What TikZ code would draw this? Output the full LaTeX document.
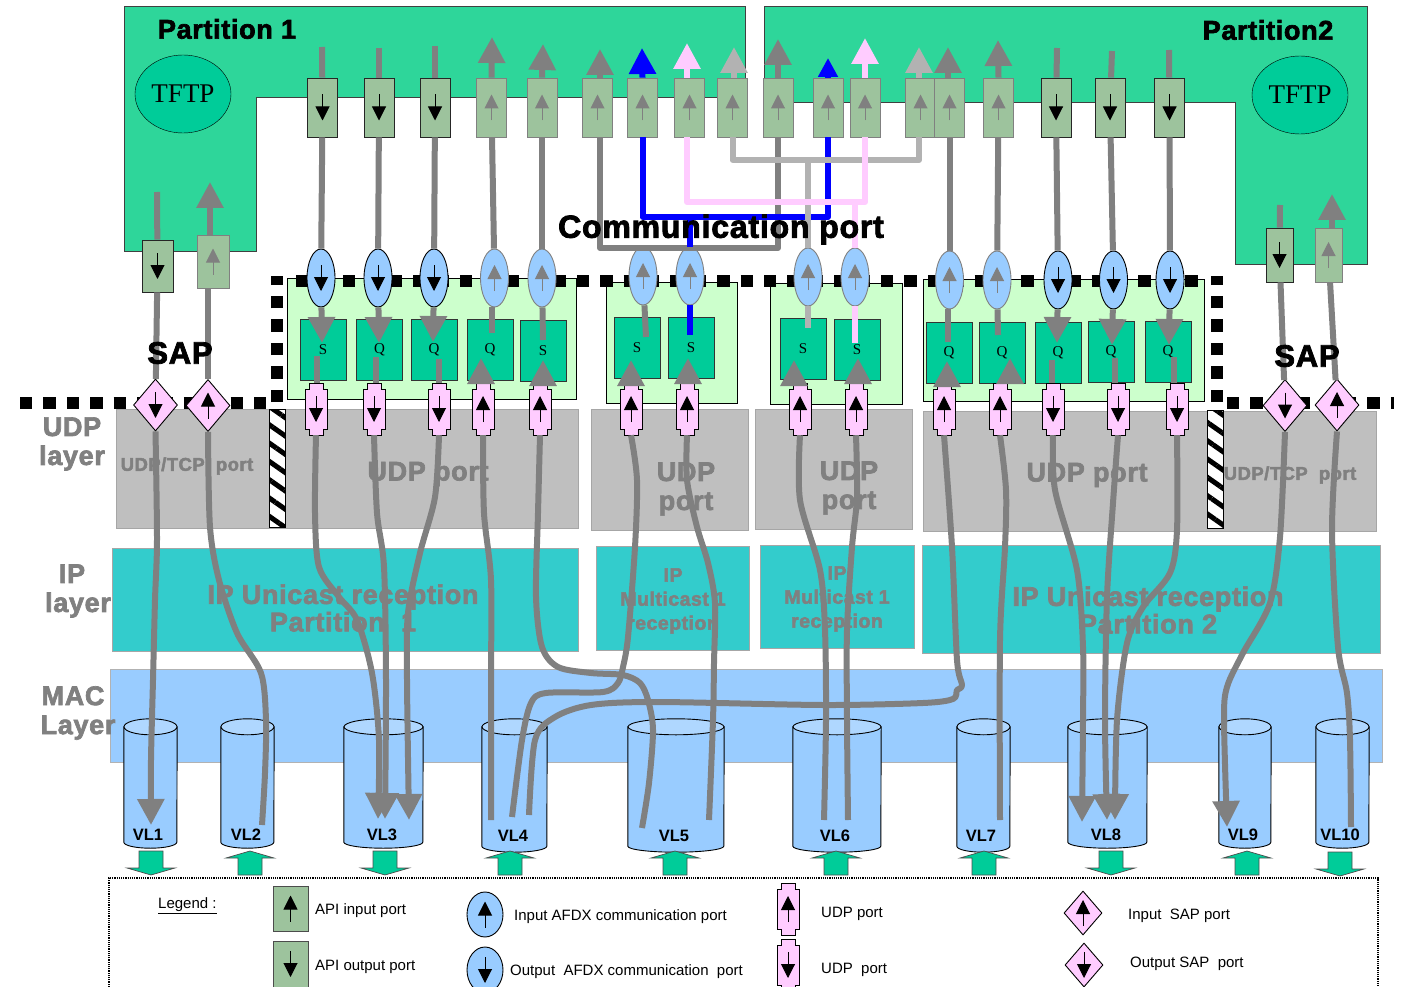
\documentclass[tikz,border=0pt]{standalone}
\usepackage{fontspec}
\usepackage{xcolor}
\setmainfont{Liberation Sans}
\newfontfamily\serifface{Liberation Serif}
\newfontfamily\heavyfont[FakeBold=2.5,LetterSpace=2.5]{Liberation Sans Bold}
\newcommand{\heavyface}[2]{\heavyfont\fontsize{#1}{#2}\selectfont}
\usetikzlibrary{arrows.meta,shapes.geometric,patterns.meta}
\definecolor{partgreen}{HTML}{2ED69A}
\definecolor{seagreen}{HTML}{00CC99}
\definecolor{mintgreen}{HTML}{CCFFCC}
\definecolor{apigreen}{HTML}{9DC39D}
\definecolor{skyblue}{HTML}{99CCFF}
\definecolor{capblue}{HTML}{AFD7FF}
\definecolor{portpink}{HTML}{FFCCFF}
\definecolor{udpgray}{HTML}{BFBFBF}
\definecolor{ipteal}{HTML}{33CCCC}
\definecolor{edgegray}{HTML}{A6A6A6}
\definecolor{flowgray}{HTML}{808080}
\definecolor{paleflow}{HTML}{B2B2B2}

\begin{document}
\begin{tikzpicture}[x=1pt, y=-1pt, >={Triangle[length=26pt,width=26pt]},
    flow/.style={line width=6pt, draw=flowgray, line join=round},
    markdown/.style={path picture={\draw[line width=1pt,#1,-{Triangle[length=14pt,width=14pt]}] (path picture bounding box.center) ++(0,-13) -- ++(0,26);}},
    markup/.style={path picture={\draw[line width=1pt,#1,-{Triangle[length=14pt,width=14pt]}] (path picture bounding box.center) ++(0,13) -- ++(0,-26);}},
    apibox/.style={rectangle, fill=apigreen, line width=0.8pt, minimum width=30, minimum height=59, inner sep=0pt},
    apiout/.style={apibox, draw=black!85, markdown=black},
    apiin/.style={apibox, draw=flowgray, markup=flowgray},
    afdxbox/.style={ellipse, fill=skyblue, line width=0.9pt, minimum width=28, minimum height=58, inner sep=0pt},
    afdxout/.style={afdxbox, draw=black, markdown=black},
    afdxin/.style={afdxbox, draw=flowgray, markup=flowgray},
    queuebox/.style={rectangle, draw=black!80, fill=seagreen, minimum width=46, minimum height=61, inner sep=0pt, font=\serifface\fontsize{15}{15}\selectfont},
    udpport/.style={rectangle, minimum width=22, minimum height=52, inner sep=0pt, append after command={\pgfextra{\draw[fill=portpink, line width=0.8pt, shift={(\tikzlastnode.center)}] (-7,-26) -- (7,-26) -- (7,-20) -- (11,-20) -- (11,20) -- (7,20) -- (7,26) -- (-7,26) -- (-7,20) -- (-11,20) -- (-11,-20) -- (-7,-20) -- cycle;}}},
    udpdown/.style={udpport, append after command={\pgfextra{\draw[line width=1pt,-{Triangle[length=14pt,width=14pt]}] (\tikzlastnode.center) ++(0,-13) -- ++(0,26);}}},
    udpup/.style={udpport, append after command={\pgfextra{\draw[line width=1pt,-{Triangle[length=14pt,width=14pt]}] (\tikzlastnode.center) ++(0,13) -- ++(0,-26);}}},
    sapbox/.style={diamond, draw=black, fill=portpink, line width=0.9pt, minimum width=44, minimum height=52, inner sep=0pt},
    vlcyl/.style={rectangle, minimum width=#1, inner sep=0pt, append after command={\pgfextra{\draw[fill=skyblue, line width=0.9pt] ([yshift=-8pt]\tikzlastnode.north west) -- ([yshift=6pt]\tikzlastnode.south west) arc[start angle=180, end angle=0, x radius=#1/2, y radius=6] -- ([yshift=-8pt]\tikzlastnode.north east) -- cycle; \draw[fill=capblue, line width=0.9pt] ([yshift=-8pt]\tikzlastnode.north) ellipse[x radius=#1/2, y radius=8];}}},
    gatebox/.style={rectangle, minimum width=48, minimum height=24, inner sep=0pt},
    gatedown/.style={gatebox, append after command={\pgfextra{\draw[fill=seagreen, draw=black!70, line width=0.7pt, shift={(\tikzlastnode.center)}] (-12,-12) -- (12,-12) -- (12,5) -- (24,5) -- (0,12) -- (-24,5) -- (-12,5) -- cycle;}}},
    gateup/.style={gatebox, append after command={\pgfextra{\draw[fill=seagreen, draw=black!70, line width=0.7pt, shift={(\tikzlastnode.center)}] (-12,12) -- (12,12) -- (12,-5) -- (24,-5) -- (0,-12) -- (-24,-5) -- (-12,-5) -- cycle;}}},
    hatchbar/.style={rectangle, draw=black, fill=white, minimum width=16, minimum height=118, inner sep=0pt},
    dotline/.style={line width=12pt, draw=black, dash pattern=on 12.4pt off 11pt},
    udprect/.style={fill=udpgray, draw=edgegray, line width=0.8pt},
    iprect/.style={fill=ipteal, draw=edgegray, line width=0.8pt},
    layertext/.style={text=flowgray, align=center, font=\heavyface{27}{29}},
    iptext/.style={text=flowgray, align=center, font=\heavyface{27}{27.5}},
    smalltext/.style={text=flowgray, align=center, font=\heavyface{18.5}{20}},
    multitext/.style={text=flowgray, align=center, font=\heavyface{19.5}{24}},
    legendtext/.style={anchor=west, inner sep=0pt, font=\fontsize{15}{15}\selectfont},
    vltext/.style={inner sep=0pt, font=\bfseries\fontsize{16.5}{16.5}\selectfont}]
    \useasboundingbox (0,0) rectangle (1405,987);

    % layers
    \draw[udprect] (116,409) rectangle (578,528);
    \draw[udprect] (591,409) rectangle (748,530);
    \draw[udprect] (755,409) rectangle (912,529);
    \draw[udprect] (923,411) rectangle (1376,531);
    \draw[iprect] (112,548) rectangle (578,651);
    \draw[iprect] (596,546) rectangle (749,650);
    \draw[iprect] (760,545) rectangle (914,648);
    \draw[iprect] (922,545) rectangle (1380,653);
    \draw[fill=skyblue, draw=paleflow, line width=0.8pt] (110,669) rectangle (1382,762);

    \node[layertext] (ludp) at (72,444) {UDP\\layer};
    \node[layertext] (lip) at (78,591) {\hspace*{-12pt}IP\\layer};
    \node[layertext] (lmac) at (78,713) {\hspace*{-10pt}MAC\\Layer};
    \node[smalltext] (tu1) at (187,466) {UDP/TCP\ \ port};
    \node[layertext] (tu2) at (428,474) {UDP port};
    \node[layertext] (tu3) at (686,489) {UDP\\port};
    \node[layertext] (tu4) at (849,488) {UDP\\port};
    \node[layertext] (tu5) at (1087,475) {UDP port};
    \node[smalltext] (tu6) at (1290,475) {UDP/TCP\ \ port};
    \node[iptext] (ti1) at (343,608) {IP Unicast reception\\Partition\ \ 1};
    \node[multitext] (ti2) at (673,601) {IP\\Multicast 1\\reception};
    \node[multitext] (ti3) at (837,599) {IP\\Multicast 1\\reception};
    \node[iptext] (ti4) at (1148,610) {IP Unicast reception\\Partition 2};

    % partitions
    \draw[fill=partgreen, draw=black!75, line width=1pt] (124,7) -- (745,7) -- (745,98) -- (256,98) -- (256,251) -- (124,251) -- cycle;
    \draw[fill=partgreen, draw=black!75, line width=1pt] (764,7) -- (1367,7) -- (1367,264) -- (1235,264) -- (1235,103) -- (764,103) -- cycle;
    \node[ellipse, draw=black, fill=seagreen, minimum width=96, minimum height=78, inner sep=0pt, font=\serifface\fontsize{27}{27}\selectfont] (tftp1) at (183,94) {TFTP};
    \node[ellipse, draw=black, fill=seagreen, minimum width=96, minimum height=78, inner sep=0pt, font=\serifface\fontsize{27}{27}\selectfont] (tftp2) at (1300,95) {TFTP};
    \node[font=\heavyface{27}{27}] (part1) at (227,29) {Partition 1};
    \node[font=\heavyface{27}{27}] (part2) at (1268,30) {Partition2};

    % queue groups
    \draw[fill=mintgreen, draw=black] (287,278) rectangle (576,399);
    \draw[fill=mintgreen, draw=black] (606,282) rectangle (737,403);
    \draw[fill=mintgreen, draw=black] (770,283) rectangle (902,404);
    \draw[fill=mintgreen, draw=black] (923,279) rectangle (1204,401);
    \node[queuebox] (s1) at (323,349.5) {S};
    \node[queuebox] (s2) at (379.5,349.5) {Q};
    \node[queuebox] (s3) at (434,349.5) {Q};
    \node[queuebox] (s4) at (490,349.5) {Q};
    \node[queuebox] (s5) at (543,350.5) {S};
    \node[queuebox] (s6) at (637,347.5) {S};
    \node[queuebox] (s7) at (691,347.5) {S};
    \node[queuebox] (s8) at (803,348.5) {S};
    \node[queuebox] (s9) at (857,349.5) {S};
    \node[queuebox] (s10) at (949,352.5) {Q};
    \node[queuebox] (s11) at (1002,352.5) {Q};
    \node[queuebox] (s12) at (1058,352.5) {Q};
    \node[queuebox] (s13) at (1111,351.5) {Q};
    \node[queuebox] (s14) at (1168,351.5) {Q};

    % boundary
    \draw[dotline] (20,403) -- (268,403);
    \draw[dotline] (276.5,402) -- (276.5,276);
    \draw[dotline] (296,281) -- (1198,281);
    \draw[dotline] (1217,402) -- (1217,276);
    \draw[dotline] (1227,403) -- (1394,403);
    \node[hatchbar] (h1) at (277,468) {};
    \node[hatchbar] (h2) at (1215,469) {};
    \fill[pattern={Lines[angle=-35,distance=15pt,line width=5pt]}, pattern color=black] (269,409) rectangle (285,527);
    \fill[pattern={Lines[angle=-35,distance=15pt,line width=5pt]}, pattern color=black] (1207,410) rectangle (1223,528);

    % virtual links
    \node[vlcyl=53, minimum height=129] (vl1) at (150.5,783.5) {};
    \node[vlcyl=53, minimum height=129] (vl2) at (247.5,783.5) {};
    \node[vlcyl=79, minimum height=129] (vl3) at (383.5,783.5) {};
    \node[vlcyl=65, minimum height=133] (vl4) at (514.5,785.5) {};
    \node[vlcyl=96, minimum height=133] (vl5) at (676,785.5) {};
    \node[vlcyl=88, minimum height=133] (vl6) at (837,785.5) {};
    \node[vlcyl=53, minimum height=133] (vl7) at (983.5,785.5) {};
    \node[vlcyl=79, minimum height=129] (vl8) at (1107.5,783.5) {};
    \node[vlcyl=52, minimum height=129] (vl9) at (1245,783.5) {};
    \node[vlcyl=53, minimum height=129] (vl10) at (1342.5,783.5) {};
    \node[gatedown] (g1) at (151,863) {};
    \node[gateup] (g2) at (250,863) {};
    \node[gatedown] (g3) at (385,863) {};
    \node[gateup] (g4) at (510,863) {};
    \node[gateup] (g5) at (675,863) {};
    \node[gateup] (g6) at (836,863) {};
    \node[gateup] (g7) at (984,863) {};
    \node[gatedown] (g8) at (1111,863) {};
    \node[gateup] (g9) at (1247,863) {};
    \node[gatedown] (g10) at (1340,864) {};

    % api ports
    \node[apiout] (po1) at (322.5,107.5) {};
    \node[apiout] (po2) at (379,107.5) {};
    \node[apiout] (po3) at (435,107.5) {};
    \node[apiin] (pi1) at (491.5,107.5) {};
    \node[apiin] (pi2) at (542,107.5) {};
    \node[apiin] (pi3) at (597.5,107.5) {};
    \node[apiin] (pi4) at (642.5,107.5) {};
    \node[apiin] (pi5) at (689.5,107.5) {};
    \node[apiin] (pi6) at (732.5,107.5) {};
    \node[apiin] (qi1) at (778,107.5) {};
    \node[apiin] (qi2) at (828,107.5) {};
    \node[apiin] (qi3) at (865,107.5) {};
    \node[apiin] (qi4) at (920.5,107.5) {};
    \node[apiin] (qi5) at (949.5,107.5) {};
    \node[apiin] (qi6) at (998.5,107.5) {};
    \node[apiout] (qo1) at (1056,107.5) {};
    \node[apiout] (qo2) at (1110,107.5) {};
    \node[apiout] (qo3) at (1169.5,107.5) {};
    \node[apiout, minimum width=31, minimum height=52] (la1) at (157.5,266) {};
    \node[apiin, minimum width=32, minimum height=53] (la2) at (213,261.5) {};
    \node[apiout, minimum width=27, minimum height=54] (ra1) at (1279.5,255) {};
    \node[apiin, minimum width=27, minimum height=54] (ra2) at (1328.5,255) {};

    % afdx ports
    \node[afdxout] (e1) at (321,278) {};
    \node[afdxout] (e2) at (378,278) {};
    \node[afdxout] (e3) at (434,278) {};
    \node[afdxin] (e4) at (494.5,278) {};
    \node[afdxin] (e5) at (542,278) {};
    \node[afdxin] (e6) at (643,276) {};
    \node[afdxin] (e7) at (690,276) {};
    \node[afdxin] (e8) at (808,277) {};
    \node[afdxin] (e9) at (855,277) {};
    \node[afdxin] (e10) at (949.5,280) {};
    \node[afdxin] (e11) at (997,280) {};
    \node[afdxout] (e12) at (1058,280) {};
    \node[afdxout] (e13) at (1113.5,280) {};
    \node[afdxout] (e14) at (1170,280) {};

    % udp ports
    \node[udpdown] (u1) at (316,409) {};
    \node[udpdown] (u2) at (374,409) {};
    \node[udpdown] (u3) at (439,409) {};
    \node[udpup] (u4) at (483,409) {};
    \node[udpup] (u5) at (540,409) {};
    \node[udpup] (u6) at (631,409) {};
    \node[udpup] (u7) at (687,409) {};
    \node[udpup] (u8) at (800,409) {};
    \node[udpup] (u9) at (856,409) {};
    \node[udpup] (u10) at (944,409) {};
    \node[udpup] (u11) at (1000,409) {};
    \node[udpdown] (u12) at (1053,409) {};
    \node[udpdown] (u13) at (1118,409) {};
    \node[udpdown] (u14) at (1177,409) {};

    % sap ports
    \node[sapbox, markdown=black] (sp1) at (155.5,405) {};
    \node[sapbox, markup=black] (sp2) at (208,405.5) {};
    \node[sapbox, markdown=black] (sp3) at (1285,405.5) {};
    \node[sapbox, markup=black] (sp4) at (1337,405) {};

    % free ends
    \coordinate (t1) at (322,47);
    \coordinate (t2) at (379,48);
    \coordinate (t3) at (435,46);
    \coordinate (t4) at (492,37);
    \coordinate (t5) at (543,44);
    \coordinate (t6) at (600,49);
    \coordinate (t7) at (642,48);
    \coordinate (t8) at (687,43);
    \coordinate (t9) at (734,47);
    \coordinate (t10) at (778,39);
    \coordinate (t11) at (828,58);
    \coordinate (t12) at (865,38);
    \coordinate (t13) at (919,47);
    \coordinate (t14) at (948,47);
    \coordinate (t15) at (998,40);
    \coordinate (t16) at (1057,48);
    \coordinate (t17) at (1112,51);
    \coordinate (t18) at (1169,50);
    \coordinate (t19) at (157,192);
    \coordinate (t20) at (210,182);
    \coordinate (t21) at (1280,205);
    \coordinate (t22) at (1332,194);
    \coordinate (d1) at (322,343);
    \coordinate (d2) at (379,343);
    \coordinate (d3) at (433,342);
    \coordinate (d4) at (492,333);
    \coordinate (d5) at (543,340);
    \coordinate (d6) at (646,337);
    \coordinate (d7) at (690,335);
    \coordinate (d8) at (808,328);
    \coordinate (d9) at (855,343);
    \coordinate (d10) at (948,342);
    \coordinate (d11) at (998,335);
    \coordinate (d12) at (1057,343);
    \coordinate (d13) at (1112,345);
    \coordinate (d14) at (1169,345);
    \coordinate (c1) at (317,356);
    \coordinate (c2) at (376,357);
    \coordinate (c3) at (439,359);
    \coordinate (c4) at (481,358);
    \coordinate (c5) at (543,360);
    \coordinate (c6) at (631,360);
    \coordinate (c7) at (688,358);
    \coordinate (c8) at (794,360);
    \coordinate (c9) at (858,358);
    \coordinate (c10) at (947,361);
    \coordinate (c11) at (1010,358);
    \coordinate (c12) at (1052,360);
    \coordinate (c13) at (1115,358);
    \coordinate (c14) at (1174,357);
    \coordinate (jgray) at (643,248);
    \coordinate (jblue) at (690,217);
    \coordinate (jpink) at (855,202);
    \coordinate (jpale) at (808,160);

    % api to afdx
    \draw[flow] (t1) -- (po1);
    \draw[flow] (t2) -- (po2);
    \draw[flow] (t3) -- (po3);
    \draw[flow,->] (pi1.north) -- (t4);
    \draw[flow,->] (pi2.north) -- (t5);
    \draw[flow,->] (pi3.north -| t6) -- (t6);
    \draw[flow,draw=blue,blue,->] (pi4.north) -- (t7);
    \draw[flow,draw=portpink,portpink,->] (pi5.north -| t8) -- (t8);
    \draw[flow,draw=paleflow,paleflow,->] (pi6.north -| t9) -- (t9);
    \draw[flow,->] (qi1.north) -- (t10);
    \draw[flow,draw=blue,blue,-{Triangle[length=19pt,width=19pt]}] (qi2.north) -- (t11);
    \draw[flow,draw=portpink,portpink,->] (qi3.north) -- (t12);
    \draw[flow,draw=paleflow,paleflow,->] (qi4.north -| t13) -- (t13);
    \draw[flow,->] (qi5.north -| t14) -- (t14);
    \draw[flow,->] (qi6.north) -- (t15);
    \draw[flow] (t16) -- (qo1);
    \draw[flow] (t17) -- (qo2);
    \draw[flow] (t18) -- (qo3);
    \draw[flow] (t19) -- (la1);
    \draw[flow,->] (la2.north -| t20) -- (t20);
    \draw[flow] (t21) -- (ra1);
    \draw[flow,->] (ra2.north -| t22) -- (t22);
    \draw[flow] (po1) -- (e1);
    \draw[flow] (po2) -- (e2);
    \draw[flow] (po3) -- (e3);
    \draw[flow] (pi1) -- (e4);
    \draw[flow] (pi2) -- (e5);
    \draw[flow] (qi5) -- (e10);
    \draw[flow] (qi6) -- (e11);
    \draw[flow] (qo1) -- (e12);
    \draw[flow] (qo2) -- (e13);
    \draw[flow] (qo3) -- (e14);
    \draw[flow] (pi3.south -| t6) |- (jgray) -| (qi1.south);
    \draw[flow,draw=blue] (pi4.south) |- (jblue) -| (qi2.south);
    \draw[flow,draw=blue] (jblue) -- (e7);
    \draw[flow,draw=paleflow] (pi6.south) |- (jpale) -| (qi4.south -| t13);
    \draw[flow,draw=paleflow] (jpale) -- (e8);
    \draw[flow,draw=portpink] (pi5.south -| t8) |- (jpink) -| (qi3.south);
    \draw[flow,draw=portpink] (jpink) -- (e9);

    % lower api to sap
    \draw[flow] (la1) -- (sp1);
    \draw[flow] (la2.south -| sp2) -- (sp2);
    \draw[flow] (ra1) -- (sp3);
    \draw[flow] (ra2) -- (sp4);

    % afdx to queue
    \draw[flow,->] (e1) -- (d1);
    \draw[flow,->] (e2) -- (d2);
    \draw[flow,->] (e3) -- (d3);
    \draw[flow] (e4.south -| d4) -- (d4);
    \draw[flow] (e5) -- (d5);
    \draw[flow] (e6) -- (d6);
    \draw[flow,draw=blue] (e7) -- (d7);
    \draw[flow,draw=paleflow] (e8) -- (d8);
    \draw[flow,draw=portpink] (e9) -- (d9);
    \draw[flow] (e10.south -| d10) -- (d10);
    \draw[flow] (e11) -- (d11);
    \draw[flow,->] (e12) -- (d12);
    \draw[flow,->] (e13) -- (d13);
    \draw[flow,->] (e14) -- (d14);

    % udp to queue
    \draw[flow] (u1.north -| c1) -- (c1);
    \draw[flow] (u2.north -| c2) -- (c2);
    \draw[flow] (u3.north -| c3) -- (c3);
    \draw[flow,->] (u4.north -| c4) -- (c4);
    \draw[flow,->] (u5.north -| c5) -- (c5);
    \draw[flow,->] (u6.north -| c6) -- (c6);
    \draw[flow,->] (u7.north -| c7) -- (c7);
    \draw[flow,->] (u8.north -| c8) -- (c8);
    \draw[flow,->] (u9.north -| c9) -- (c9);
    \draw[flow,->] (u10.north -| c10) -- (c10);
    \draw[flow,->] (u11.north -| c11) -- (c11);
    \draw[flow] (u12.north -| c12) -- (c12);
    \draw[flow] (u13.north -| c13) -- (c13);
    \draw[flow] (u14.north -| c14) -- (c14);

    % ends in the virtual links
    \coordinate (v1) at (151,825);
    \coordinate (v2) at (262,825);
    \coordinate (v3a) at (378,819);
    \coordinate (v3b) at (385,819);
    \coordinate (v3c) at (409,820);
    \coordinate (v4a) at (491,820);
    \coordinate (v4b) at (512,817);
    \coordinate (v4c) at (529,815);
    \coordinate (v5a) at (642,828);
    \coordinate (v5b) at (709,820);
    \coordinate (v6a) at (824,820);
    \coordinate (v6b) at (848,820);
    \coordinate (v7) at (1000,820);
    \coordinate (v8a) at (1082,822);
    \coordinate (v8b) at (1107,820);
    \coordinate (v8c) at (1115,820);
    \coordinate (v9) at (1227,827);
    \coordinate (v10) at (1351,827);

    % udp and sap to virtual links
    \draw[flow,->] plot[smooth] coordinates {(sp1.south) (157,540) (155,600) (153,680) (151,760) (v1)};
    \draw[flow] plot[smooth] coordinates {(sp2.south) (210,527) (219,580) (237,633) (261,673) (266,720) (265,773) (v2)};
    \draw[flow,->] plot[smooth] coordinates {(u1.south) (315,513) (319,567) (339,597) (357,620) (372,673) (379,740) (v3a)};
    \draw[flow,->] plot[smooth] coordinates {(u2.south) (377,513) (384,567) (386,680) (v3b)};
    \draw[flow,->] plot[smooth] coordinates {(u3.south) (435,497) (420,553) (408,613) (407,680) (v3c)};
    \draw[flow] plot[smooth] coordinates {(u4.south) (484,513) (491,580) (491,680) (v4a)};
    \draw[flow] plot[smooth] coordinates {(u5.south) (538,513) (536,597) (542,647) (558,667) (591,673) (623,675) (640,683) (648,700) (653,730) (649,783) (v5a)};
    \draw[flow] plot[smooth] coordinates {(u6.south) (637,480) (635,547) (628,637) (623,667) (618,683) (603,692) (546,693) (531,703) (522,740) (v4b)};
    \draw[flow] plot[smooth] coordinates {(u7.south) (687,480) (697,527) (708,563) (715,603) (714,663) (713,720) (v5b)};
    \draw[flow] plot[smooth] coordinates {(u8.south) (800,500) (820,570) (825,630) (826,720) (v6a)};
    \draw[flow] plot[smooth] coordinates {(u9.south) (857,497) (852,547) (847,630) (847,720) (v6b)};
    \draw[flow] plot[smooth] coordinates {(u10.south) (952,547) (957,660) (962,685) (957,690) (953,699) (923,703) (823,705) (657,702) (591,705) (555,717) (535,740) (v4c)};
    \draw[flow] plot[smooth] coordinates {(u11.south) (1006,490) (1005,547) (1000,640) (v7)};
    \draw[flow,->] plot[smooth] coordinates {(u12.south) (1055,490) (1077,570) (1083,647) (1083,720) (v8a)};
    \draw[flow,->] plot[smooth] coordinates {(u13.south) (1113,503) (1107,597) (1105,720) (v8b)};
    \draw[flow,->] plot[smooth] coordinates {(u14.south) (1177,530) (1170,573) (1143,607) (1127,643) (1117,720) (v8c)};
    \draw[flow,->] plot[smooth] coordinates {(sp3.south) (1280,537) (1270,603) (1243,653) (1227,687) (1224,720) (v9)};
    \draw[flow] plot[smooth] coordinates {(sp4.south) (1332,530) (1338,647) (1347,693) (1350,740) (v10)};

    % labels on top
    \node[vltext] (tv1) at (148,835) {VL1};
    \node[vltext] (tv2) at (246,835) {VL2};
    \node[vltext] (tv3) at (382,835) {VL3};
    \node[vltext] (tv4) at (513,836) {VL4};
    \node[vltext] (tv5) at (674,836) {VL5};
    \node[vltext] (tv6) at (835,836) {VL6};
    \node[vltext] (tv7) at (981,836) {VL7};
    \node[vltext] (tv8) at (1106,835) {VL8};
    \node[vltext] (tv9) at (1243,835) {VL9};
    \node[vltext] (tv10) at (1340,835) {VL10};
    \node[font=\heavyface{31}{31}] (sap1) at (180,353) {SAP};
    \node[font=\heavyface{31}{31}] (sap2) at (1307,356) {SAP};
    \node[font=\heavyface{32}{32}] (comm) at (721,229.5) {Communication port};

    % legend
    \draw[densely dotted, line width=1.2pt] (109,987) -- (109,878) -- (1378,878) -- (1378,987);
    \node[legendtext] (leg) at (158,906) {\underline{Legend :}};
    \node[apibox, draw=black!70, minimum width=35, minimum height=45, markup=black] (lg1) at (290.5,908.5) {};
    \node[apibox, draw=black!70, minimum width=35, minimum height=46, markdown=black] (lg2) at (290.5,964) {};
    \node[afdxbox, draw=black, minimum width=36, minimum height=45, markup=black] (lg3) at (485,914.5) {};
    \node[afdxbox, draw=black, minimum width=36, minimum height=46, markdown=black] (lg4) at (485,970) {};
    \node[udpup] (lg5) at (788,909) {};
    \node[udpdown] (lg6) at (788,965) {};
    \node[sapbox, minimum width=38, minimum height=44, markup=black] (lg7) at (1083,913) {};
    \node[sapbox, minimum width=38, minimum height=44, markdown=black] (lg8) at (1084,965) {};
    \node[legendtext] (tl1) at (315,911) {API input port};
    \node[legendtext] (tl2) at (315,967) {API output port};
    \node[legendtext] (tl3) at (514,917) {Input AFDX communication port};
    \node[legendtext] (tl4) at (510,972) {Output\ \ AFDX communication\ \ port};
    \node[legendtext] (tl5) at (821,914) {UDP port};
    \node[legendtext] (tl6) at (821,970) {UDP\ \ port};
    \node[legendtext] (tl7) at (1128,916) {Input\ \ SAP port};
    \node[legendtext] (tl8) at (1130,964) {Output SAP\ \ port};
\end{tikzpicture}
\end{document}
